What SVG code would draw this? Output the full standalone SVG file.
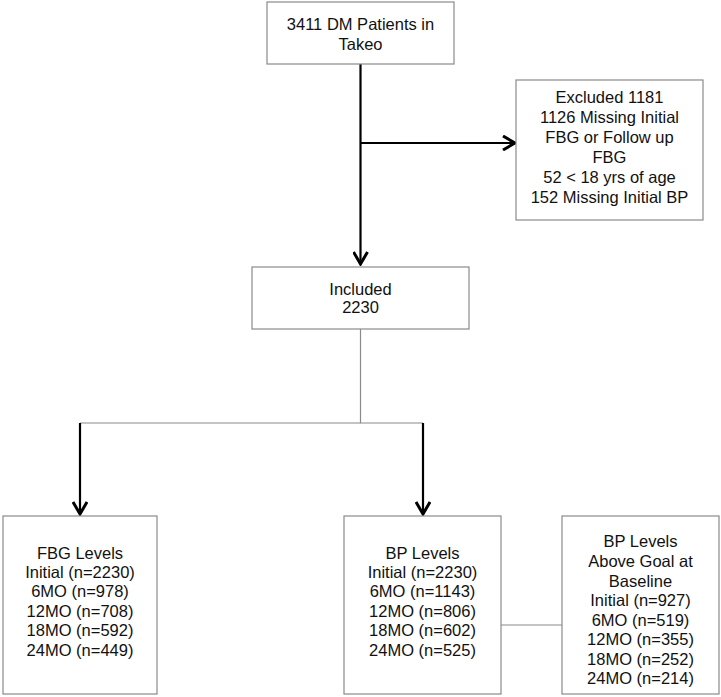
<svg xmlns="http://www.w3.org/2000/svg" width="721" height="697" viewBox="0 0 721 697">
<style>
.box{fill:#fff;stroke:#8a8a8a;stroke-width:1.2}
.t{font-family:"Liberation Sans",Arial,sans-serif;font-size:16.5px;fill:#111;text-anchor:middle}
.thick{stroke:#000;stroke-width:2.2;fill:none}
.thin{stroke:#8a8a8a;stroke-width:1.2;fill:none}
</style>
<defs>
<marker id="arr" viewBox="0 0 16 16" refX="14" refY="8" markerWidth="16" markerHeight="16" markerUnits="userSpaceOnUse" orient="auto">
<path d="M2,1 L14,8 L2,15" fill="none" stroke="#000" stroke-width="3"/>
</marker>
</defs>
<rect width="721" height="697" fill="#fff"/>
<g id="connectors">
<line class="thick" x1="360.5" y1="64" x2="360.5" y2="264" marker-end="url(#arr)"/>
<line class="thick" x1="360.5" y1="143" x2="515" y2="143" marker-end="url(#arr)"/>
<polyline class="thin" points="360.5,329 360.5,423 80,423"/>
<line class="thin" x1="360.5" y1="423" x2="423" y2="423"/>
<line class="thick" x1="80" y1="423" x2="80" y2="514" marker-end="url(#arr)"/>
<line class="thick" x1="423" y1="423" x2="423" y2="514" marker-end="url(#arr)"/>
<line class="thin" x1="501" y1="625" x2="562" y2="625"/>
</g>
<g id="n_start">
<rect class="box" x="267" y="2" width="187" height="62"/>
<text class="t" x="360.5" y="30">3411 DM Patients in</text>
<text class="t" x="360.5" y="50">Takeo</text>
</g>
<g id="n_excluded">
<rect class="box" x="516" y="80" width="187" height="140"/>
<text class="t" x="609.5" y="103">Excluded 1181</text>
<text class="t" x="609.5" y="123">1126 Missing Initial</text>
<text class="t" x="609.5" y="143">FBG or Follow up</text>
<text class="t" x="609.5" y="163">FBG</text>
<text class="t" x="609.5" y="183">52 &lt; 18 yrs of age</text>
<text class="t" x="609.5" y="203">152 Missing Initial BP</text>
</g>
<g id="n_included">
<rect class="box" x="252" y="267" width="217" height="62"/>
<text class="t" x="360.5" y="295">Included</text>
<text class="t" x="360.5" y="313">2230</text>
</g>
<g id="n_fbg">
<rect class="box" x="3" y="516" width="154" height="178"/>
<text class="t" x="80" y="559">FBG Levels</text>
<text class="t" x="80" y="578">Initial (n=2230)</text>
<text class="t" x="80" y="597">6MO (n=978)</text>
<text class="t" x="80" y="617">12MO (n=708)</text>
<text class="t" x="80" y="636">18MO (n=592)</text>
<text class="t" x="80" y="656">24MO (n=449)</text>
</g>
<g id="n_bp">
<rect class="box" x="344" y="516" width="157" height="178"/>
<text class="t" x="422.5" y="559">BP Levels</text>
<text class="t" x="422.5" y="578">Initial (n=2230)</text>
<text class="t" x="422.5" y="597">6MO (n=1143)</text>
<text class="t" x="422.5" y="617">12MO (n=806)</text>
<text class="t" x="422.5" y="636">18MO (n=602)</text>
<text class="t" x="422.5" y="656">24MO (n=525)</text>
</g>
<g id="n_bp_goal">
<rect class="box" x="562" y="516" width="157" height="178"/>
<text class="t" x="640.5" y="547">BP Levels</text>
<text class="t" x="640.5" y="567">Above Goal at</text>
<text class="t" x="640.5" y="587">Baseline</text>
<text class="t" x="640.5" y="606">Initial (n=927)</text>
<text class="t" x="640.5" y="626">6MO (n=519)</text>
<text class="t" x="640.5" y="645">12MO (n=355)</text>
<text class="t" x="640.5" y="665">18MO (n=252)</text>
<text class="t" x="640.5" y="684">24MO (n=214)</text>
</g>
</svg>
